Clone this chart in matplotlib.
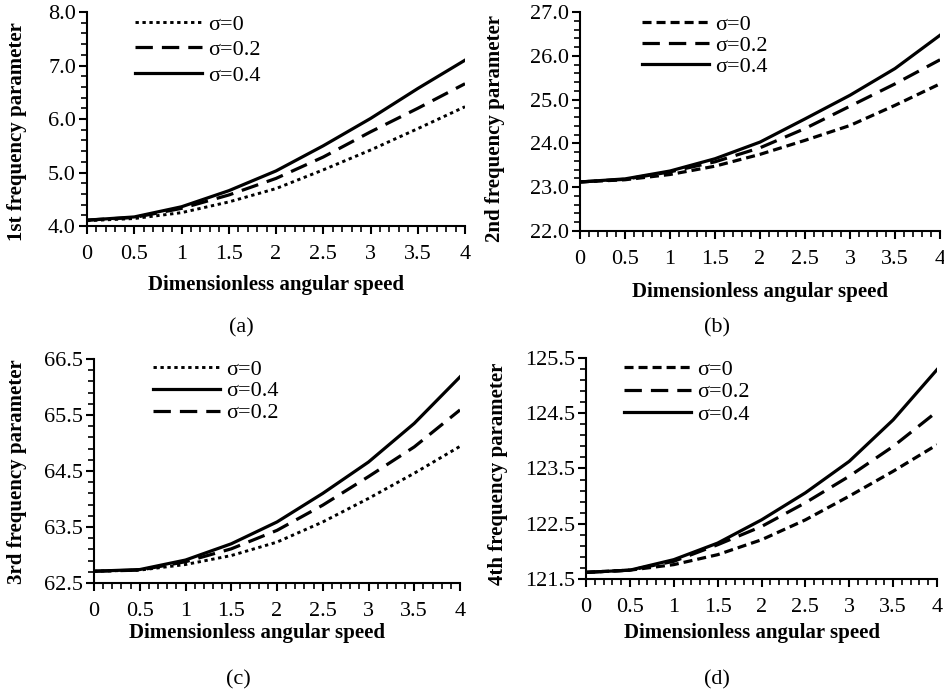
import matplotlib

matplotlib.use("Agg")
import matplotlib.pyplot as plt
from matplotlib.ticker import FormatStrFormatter, FuncFormatter, MultipleLocator

# --------------------------------------------------------------------------
# data
# --------------------------------------------------------------------------
speed = [0, 0.5, 1, 1.5, 2, 2.5, 3, 3.5, 4]

f1_s0 = [4.10, 4.14, 4.25, 4.45, 4.70, 5.05, 5.42, 5.82, 6.23]
f1_s02 = [4.11, 4.16, 4.33, 4.58, 4.89, 5.29, 5.76, 6.20, 6.66]
f1_s04 = [4.11, 4.17, 4.36, 4.66, 5.03, 5.50, 6.01, 6.57, 7.10]

f2_s0 = [23.12, 23.17, 23.29, 23.48, 23.75, 24.07, 24.41, 24.87, 25.36]
f2_s02 = [23.12, 23.18, 23.35, 23.58, 23.90, 24.34, 24.85, 25.36, 25.91]
f2_s04 = [23.12, 23.19, 23.37, 23.65, 24.03, 24.56, 25.10, 25.71, 26.47]

f3_s0 = [62.71, 62.73, 62.83, 62.99, 63.23, 63.59, 64.01, 64.46, 64.94]
f3_s02 = [62.71, 62.73, 62.88, 63.11, 63.44, 63.89, 64.40, 64.93, 65.59]
f3_s04 = [62.71, 62.74, 62.91, 63.20, 63.59, 64.10, 64.66, 65.35, 66.18]

f4_s0 = [121.62, 121.66, 121.76, 121.94, 122.21, 122.57, 123.00, 123.45, 123.93]
f4_s02 = [121.62, 121.66, 121.82, 122.12, 122.45, 122.88, 123.36, 123.90, 124.53]
f4_s04 = [121.62, 121.66, 121.85, 122.15, 122.57, 123.06, 123.63, 124.38, 125.29]

# --------------------------------------------------------------------------
# style
# --------------------------------------------------------------------------
plt.rcParams["font.family"] = ["Liberation Serif", "DejaVu Serif"]
plt.rcParams["lines.scale_dashes"] = False

LW = 2.3
DOT = (0, (2.4, 2.6))
SHORT = (0, (6.5, 3.6))
LONG = (0, (12.5, 6.5))
SOLID = "-"
FS_TICK = 16
FS_LABEL = 15
FS_LEG = 16


def _fmt_x(v, _pos):
    return f"{v:g}"


def _panel(ax, ylim, ylabel, ylab_xy, xlab_xy, series, leg_xy, leg_space):
    for y, ls, lab in series:
        ax.plot(speed, y, color="black", linewidth=LW if ls != DOT else 2.1,
                linestyle=ls, label=lab, dash_capstyle="butt")
    ax.set_xlim(0, 4)
    ax.set_ylim(*ylim)
    ax.xaxis.set_major_locator(MultipleLocator(0.5))
    ax.xaxis.set_minor_locator(MultipleLocator(0.1))
    ax.yaxis.set_major_locator(MultipleLocator(1.0, offset=ylim[0] % 1.0))
    ax.yaxis.set_minor_locator(MultipleLocator(0.2, offset=ylim[0] % 0.2))
    ax.xaxis.set_major_formatter(FuncFormatter(_fmt_x))
    ax.yaxis.set_major_formatter(FormatStrFormatter("%.1f"))
    for side in ("top", "right"):
        ax.spines[side].set_visible(False)
    for side in ("left", "bottom"):
        ax.spines[side].set_linewidth(1.5)
    ax.tick_params(axis="both", which="major", direction="out", length=6,
                   width=1.5, labelsize=FS_TICK)
    ax.tick_params(axis="both", which="minor", direction="out", length=4,
                   width=1.2)
    ax.tick_params(axis="x", which="major", pad=8)
    ax.tick_params(axis="y", which="major", pad=2)

    ax.set_xlabel("Dimensionless angular speed", fontsize=FS_LABEL,
                  fontweight="bold")
    ax.xaxis.set_label_coords(*xlab_xy)
    ax.xaxis.label.set_va("center")
    ax.set_ylabel(ylabel, fontsize=FS_LABEL, fontweight="bold", va="center")
    ax.yaxis.set_label_coords(*ylab_xy)

    ax.legend(loc="upper left", bbox_to_anchor=leg_xy, frameon=False,
              fontsize=FS_LEG, handlelength=3.0, handletextpad=0.3,
              labelspacing=leg_space, borderpad=0, borderaxespad=0)


fig = plt.figure(figsize=(9.44, 6.91), dpi=100)

ax_a = fig.add_axes([0.0922, 0.6729, 0.4004, 0.3097])
_panel(ax_a, (4.0, 8.0), "1st frequency parameter", (-0.185, 0.44),
       (0.5, -0.276),
       [(f1_s0, DOT, "σ=0"), (f1_s02, LONG, "σ=0.2"), (f1_s04, SOLID, "σ=0.4")],
       (0.127, 0.99), 0.22)

ax_b = fig.add_axes([0.6144, 0.6657, 0.3814, 0.3169])
_panel(ax_b, (22.0, 27.0), "2nd frequency parameter", (-0.236, 0.47),
       (0.5, -0.279),
       [(f2_s0, SHORT, "σ=0"), (f2_s02, LONG, "σ=0.2"), (f2_s04, SOLID, "σ=0.4")],
       (0.172, 0.99), 0.02)

ax_c = fig.add_axes([0.0996, 0.1563, 0.3877, 0.3242])
_panel(ax_c, (62.5, 66.5), "3rd frequency parameter", (-0.21, 0.495),
       (0.445, -0.223),
       [(f3_s0, DOT, "σ=0"), (f3_s04, SOLID, "σ=0.4"), (f3_s02, LONG, "σ=0.2")],
       (0.161, 1.0), 0.06)

ax_d = fig.add_axes([0.6208, 0.1621, 0.3718, 0.3198])
_panel(ax_d, (121.5, 125.5), "4th frequency parameter", (-0.25, 0.475),
       (0.473, -0.244),
       [(f4_s0, SHORT, "σ=0"), (f4_s02, LONG, "σ=0.2"), (f4_s04, SOLID, "σ=0.4")],
       (0.108, 0.995), 0.1)

# sub-figure captions
for x_px, y_px, txt in [(241, 328, "(a)"), (717, 328, "(b)"),
                        (238, 680, "(c)"), (717, 680, "(d)")]:
    fig.text(x_px / 944, 1 - y_px / 691, txt, fontsize=16, ha="center",
             va="center")

fig.savefig("out.png", dpi=100)
